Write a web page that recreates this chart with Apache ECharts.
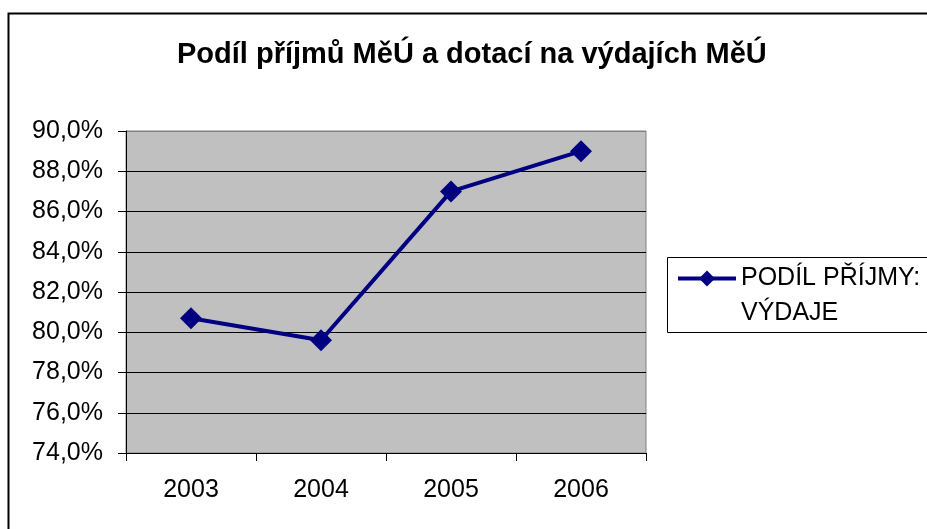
<!DOCTYPE html>
<html>
<head>
<meta charset="utf-8">
<script src="https://cdn.jsdelivr.net/npm/echarts@6/dist/echarts.min.js"></script>
<style>
  html, body { margin: 0; padding: 0; background: #fff; }
  #main { width: 927px; height: 529px; }
</style>
</head>
<body>
<div id="main"></div>
<script>
// data
var years = ['2003', '2004', '2005', '2006'];
var podil = [80.7, 79.6, 87.0, 89.0];
var seriesName = 'PODÍL PŘÍJMY:\nVÝDAJE';

(function () {
    var myChart = echarts.init(document.getElementById('main'));
    var font = '"Liberation Sans", Arial, sans-serif';

    var option = {
        backgroundColor: '#fff',
        animation: false,
        title: {
            text: 'Podíl příjmů MěÚ a dotací na výdajích MěÚ',
            left: 177,
            top: 40,
            padding: 0,
            textStyle: { fontFamily: font, fontSize: 29, fontWeight: 'bold', color: '#000' }
        },
        // outer chart frame + legend frame
        graphic: [
            { type: 'rect', left: 6, top: 11, shape: { width: 940, height: 540 },
              style: { fill: 'none', stroke: '#000', lineWidth: 2 } },
            { type: 'rect', left: 667, top: 257, shape: { width: 280, height: 75 },
              style: { fill: '#fff', stroke: '#000', lineWidth: 1 }, z: 1 }
        ],
        legend: {
            left: 676,
            top: 226,
            padding: 0,
            itemWidth: 58,
            itemHeight: 20,
            z: 5,
            lineStyle: { width: 4 },
            // leading empty line keeps the icon level with the first text line
            formatter: function (name) { return '\n' + name; },
            textStyle: { fontFamily: font, fontSize: 25, color: '#000', lineHeight: 35 },
            data: [seriesName]
        },
        grid: {
            left: 126, top: 131, width: 520, height: 322,
            show: true,
            backgroundColor: '#c0c0c0',
            borderColor: '#808080',
            borderWidth: 1
        },
        xAxis: {
            type: 'category',
            data: years,
            boundaryGap: true,
            axisLine: { lineStyle: { color: '#000', width: 1 } },
            axisTick: { show: true, alignWithLabel: false, length: 8, lineStyle: { color: '#000' } },
            axisLabel: { fontFamily: font, fontSize: 25, color: '#000', margin: 25 }
        },
        yAxis: {
            type: 'value',
            min: 74, max: 90, interval: 2,
            axisLine: { show: true, lineStyle: { color: '#000', width: 1 } },
            axisTick: { show: true, length: 8, lineStyle: { color: '#000' } },
            axisLabel: {
                fontFamily: font, fontSize: 25, color: '#000', margin: 23,
                formatter: function (v) { return v.toFixed(1).replace('.', ',') + '%'; }
            },
            splitLine: {
                lineStyle: { color: ['#000', '#000', '#000', '#000', '#000', '#000', '#000', '#000', '#808080'], width: 1 }
            }
        },
        series: [{
            name: seriesName,
            type: 'line',
            data: podil,
            symbol: 'diamond',
            symbolSize: 22,
            itemStyle: { color: '#000080' },
            lineStyle: { color: '#000080', width: 4 }
        }]
    };

    myChart.setOption(option);
    window.addEventListener('resize', function () {
        myChart.resize();
    });
})();
</script>
</body>
</html>
